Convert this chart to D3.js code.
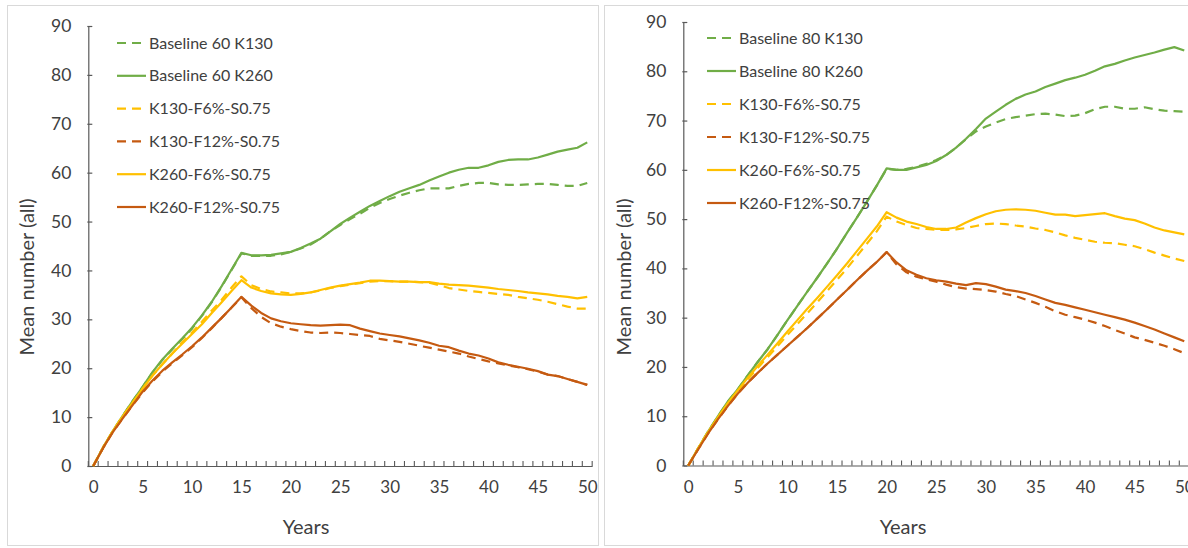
<!DOCTYPE html>
<html><head><meta charset="utf-8">
<script src="https://cdn.jsdelivr.net/npm/d3@7"></script>
<style>
html,body{margin:0;padding:0;background:#fff;}
svg{display:block;font-family:Lato,"Open Sans",sans-serif;}
</style></head>
<body><svg id="c" width="1188" height="548"></svg>
<script>
// ---------- data ----------
const years = d3.range(0, 51);
const xTickLabels = [0, 5, 10, 15, 20, 25, 30, 35, 40, 45, 50];
const yTickLabels = [0, 10, 20, 30, 40, 50, 60, 70, 80, 90];
const seriesNamesLeft  = ["Baseline 60 K130", "Baseline 60 K260", "K130-F6%-S0.75", "K130-F12%-S0.75", "K260-F6%-S0.75", "K260-F12%-S0.75"];
const seriesNamesRight = ["Baseline 80 K130", "Baseline 80 K260", "K130-F6%-S0.75", "K130-F12%-S0.75", "K260-F6%-S0.75", "K260-F12%-S0.75"];
const seriesColors = ["#70AD47", "#70AD47", "#FFC000", "#C55A11", "#FFC000", "#C55A11"];
const seriesDashed = [true, false, true, true, false, false];
const xTitle = "Years";
const yTitle = "Mean number (all)";

// left panel
const L_base130 = [0,3.8,7.2,10.3,13.3,16.2,19.1,21.7,23.9,26,28.1,30.7,33.5,36.7,40.1,43.5,43,43,43,43.3,43.8,44.5,45.3,46.5,48,49.3,50.5,51.6,52.8,53.8,54.6,55.3,55.9,56.4,56.8,56.8,56.8,57.3,57.7,57.9,57.9,57.6,57.5,57.5,57.6,57.7,57.7,57.5,57.3,57.3,57.9];
const L_base260 = [0,3.8,7.2,10.3,13.3,16.2,19.2,21.8,24,26.1,28.3,30.8,33.6,36.8,40.2,43.6,43.1,43.1,43.2,43.5,43.8,44.6,45.5,46.5,48,49.5,50.8,52,53.2,54.2,55.2,56.1,56.8,57.5,58.4,59.2,60,60.6,61,61,61.5,62.2,62.6,62.7,62.7,63.1,63.7,64.3,64.7,65.1,66.2];
const L_k130f6  = [0,3.8,7.2,10.2,13,15.8,18.5,20.8,23,25.3,27.3,29.5,31.8,34,36.5,38.8,37,36.2,35.7,35.5,35.3,35.3,35.5,35.9,36.4,36.8,37.1,37.4,37.7,37.8,37.8,37.7,37.7,37.6,37.5,37,36.4,36.1,35.8,35.6,35.4,35.2,35,34.6,34.3,34,33.6,33.1,32.6,32.2,32.2];
const L_k130f12 = [0,3.7,7,9.8,12.5,15,17.3,19.3,21,22.6,24.3,26.2,28.2,30.3,32.4,34.5,32.3,30.5,29.2,28.5,28,27.6,27.3,27.2,27.3,27.2,27,26.8,26.6,26,25.7,25.4,25,24.6,24.2,23.8,23.4,23,22.4,21.9,21.4,21,20.6,20.2,19.8,19.3,18.7,18.4,17.8,17.2,16.6];
const L_k260f6  = [0,3.8,7.2,10.2,13,15.8,18.5,20.8,23,25,27,29,31.3,33.5,35.8,38,36.5,35.8,35.3,35.1,35,35.2,35.5,36,36.5,36.9,37.2,37.5,37.9,37.9,37.8,37.7,37.7,37.6,37.6,37.3,37.1,37,36.9,36.7,36.5,36.2,36,35.8,35.5,35.3,35.1,34.8,34.6,34.3,34.6];
const L_k260f12 = [0,3.7,7,9.8,12.5,15.2,17.5,19.5,21.2,22.8,24.5,26.3,28.3,30.3,32.4,34.6,32.8,31.3,30.2,29.6,29.2,29,28.8,28.7,28.8,28.9,28.8,28.1,27.6,27.1,26.8,26.5,26.1,25.7,25.2,24.6,24.3,23.6,23,22.6,22,21.2,20.7,20.3,19.9,19.4,18.7,18.4,17.8,17.2,16.6];

// right panel
const R_base130 = [0,3.5,6.9,10,13,15.5,18.3,21,23.6,26.5,29.5,32.4,35.3,38.1,41,44,47.2,50.3,53.5,56.8,60.2,60,60.2,60.6,61.2,62,63,64.5,66.2,67.8,68.8,69.6,70.3,70.7,71,71.3,71.4,71.2,70.9,71,71.5,72.3,72.8,72.8,72.4,72.4,72.7,72.3,72,71.9,71.8];
const R_base260 = [0,3.5,6.9,10,13,15.5,18.3,21,23.6,26.5,29.5,32.4,35.3,38.1,41,44,47.2,50.3,53.5,56.8,60.3,60,60,60.5,61,61.8,63,64.5,66.3,68.3,70.4,71.8,73.2,74.4,75.3,75.9,76.8,77.5,78.2,78.7,79.3,80.1,81,81.5,82.2,82.8,83.3,83.8,84.4,84.9,84.2];
const R_k130f6  = [0,3.5,6.8,9.7,12.5,15,17.5,19.8,22,24.2,26.5,28.7,30.9,33.1,35.4,37.7,40,42.5,45,47.5,50.5,49.5,48.8,48.2,48,47.8,47.8,47.9,48.2,48.6,49,49.1,49,48.7,48.5,48.1,47.8,47.3,46.7,46.2,45.8,45.4,45.2,45.1,44.8,44.5,43.9,43.2,42.6,42,41.5];
const R_k130f12 = [0,3.3,6.5,9.4,12.1,14.6,16.8,18.8,20.7,22.5,24.3,26.1,27.9,29.8,31.7,33.7,35.6,37.6,39.5,41.3,43.3,40.8,39.2,38.3,37.8,37.3,36.7,36.2,35.9,35.8,35.6,35.3,34.8,34.4,33.7,33,32.2,31.3,30.6,30.1,29.6,29,28.3,27.5,26.8,26,25.5,24.9,24.3,23.6,22.8];
const R_k260f6  = [0,3.5,6.8,9.8,12.7,15.3,17.8,20.2,22.5,24.8,27.2,29.5,31.8,34,36.3,38.6,41,43.5,46,48.5,51.4,50.3,49.5,49,48.4,48,48,48.3,49.3,50.2,51,51.6,51.9,52,51.9,51.7,51.3,50.9,50.9,50.6,50.8,51,51.2,50.6,50.1,49.8,49.1,48.3,47.7,47.3,46.9];
const R_k260f12 = [0,3.3,6.5,9.4,12.1,14.6,16.8,18.8,20.7,22.5,24.3,26.1,27.9,29.8,31.7,33.7,35.6,37.6,39.5,41.3,43.3,41.2,39.6,38.7,38,37.6,37.3,36.9,36.6,37,36.8,36.3,35.7,35.4,35,34.4,33.7,33,32.6,32.1,31.6,31.1,30.6,30.1,29.6,29,28.3,27.6,26.8,26,25.2];

// ---------- drawing ----------
const svg = d3.select("#c");
svg.append("rect").attr("width",1188).attr("height",548).attr("fill","#fff");

function drawPanel(p) {
  const g = svg.append("g");
  // panel border
  g.append("rect").attr("x", p.box[0]+0.5).attr("y", p.box[1]+0.5)
    .attr("width", p.box[2]-p.box[0]).attr("height", p.box[3]-p.box[1])
    .attr("fill", "none").attr("stroke", "#d9d9d9").attr("stroke-width", 1);

  const x = d3.scaleLinear().domain([-0.5, 50.5]).range([p.x0, p.x0 + 51 * p.step]);
  const y = d3.scaleLinear().domain([0, 90]).range([p.y0, p.y90]);

  // y axis
  const ya = g.append("g").attr("transform", `translate(${p.x0},0)`)
    .call(d3.axisLeft(y).tickValues(yTickLabels).tickSize(0).tickPadding(17).tickFormat(d3.format("d")));
  ya.select(".domain").attr("stroke", "#595959").attr("stroke-width", 1.2);
  ya.selectAll("text").attr("font-size", 17.5).attr("fill", "#404040").attr("font-family", "Lato");
  ya.selectAll(".tick").append("line").attr("x1", -1).attr("x2", 4).attr("stroke", "#595959").attr("stroke-width", 1.2);

  // x axis
  const xa = g.append("g").attr("transform", `translate(0,${p.y0})`)
    .call(d3.axisBottom(x).tickValues(xTickLabels).tickSize(0).tickPadding(15).tickFormat(d3.format("d")));
  xa.select(".domain").attr("stroke", "#595959").attr("stroke-width", 1.2);
  xa.selectAll("text").attr("font-size", 17).attr("fill", "#404040").attr("font-family", "Lato");
  // minor ticks at category boundaries, pointing up
  g.append("g").selectAll("line").data(d3.range(0, 52)).join("line")
    .attr("x1", d => x(d - 0.5)).attr("x2", d => x(d - 0.5))
    .attr("y1", p.y0).attr("y2", p.y0 - 5)
    .attr("stroke", "#595959").attr("stroke-width", 1.1);

  // axis titles
  g.append("text").attr("x", p.xTitleX).attr("y", 534).attr("text-anchor", "middle")
    .attr("font-size", 20).attr("fill", "#404040").text(xTitle);
  g.append("text").attr("transform", `translate(${p.yTitleX},${p.yTitleY}) rotate(-90)`)
    .attr("text-anchor", "middle").attr("font-size", 20).attr("fill", "#404040").text(yTitle);

  // lines
  const line = d3.line().x((d, i) => x(years[i])).y(d => y(d)).curve(d3.curveLinear);
  p.series.forEach((s, k) => {
    g.append("path").datum(s).attr("d", line).attr("fill", "none")
      .attr("stroke", seriesColors[k]).attr("stroke-width", 2.2)
      .attr("stroke-linejoin", "round")
      .attr("stroke-dasharray", seriesDashed[k] ? "9,6" : null);
  });

  // legend
  const lg = g.append("g");
  p.names.forEach((n, k) => {
    const ly = p.legY + k * p.legStep;
    lg.append("line").attr("x1", p.legX).attr("x2", p.legX + 29).attr("y1", ly).attr("y2", ly)
      .attr("stroke", seriesColors[k]).attr("stroke-width", 2.2)
      .attr("stroke-dasharray", seriesDashed[k] ? "9,6" : null);
    lg.append("text").attr("x", p.legX + 32).attr("y", ly).attr("dy", "0.35em")
      .attr("font-size", 16).attr("fill", "#404040").text(n);
  });
}

drawPanel({
  box: [7, 5, 598, 545], x0: 88.3, step: 9.88, y0: 466, y90: 26,
  xTitleX: 306, yTitleX: 34, yTitleY: 277,
  legX: 117, legY: 43, legStep: 32.8,
  names: seriesNamesLeft,
  series: [L_base130, L_base260, L_k130f6, L_k130f12, L_k260f6, L_k260f12]
});
drawPanel({
  box: [604, 5, 1195, 545], x0: 683.3, step: 9.92, y0: 465.5, y90: 22,
  xTitleX: 903, yTitleX: 631, yTitleY: 277,
  legX: 707, legY: 38, legStep: 33,
  names: seriesNamesRight,
  series: [R_base130, R_base260, R_k130f6, R_k130f12, R_k260f6, R_k260f12]
});
</script></body></html>
